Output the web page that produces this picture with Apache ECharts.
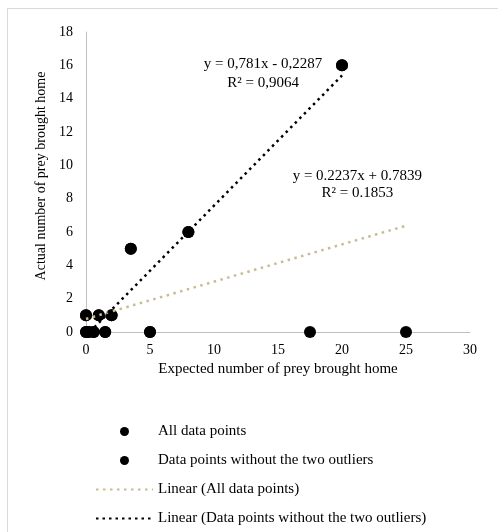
<!DOCTYPE html>
<html>
<head>
<meta charset="utf-8">
<script src="https://cdn.jsdelivr.net/npm/echarts@6/dist/echarts.min.js"></script>
<style>html,body{margin:0;padding:0;background:#fff;}#c{width:498px;height:532px;}</style>
</head>
<body>
<div id="c"></div>
<script>
var allPoints = [[0,0],[0.2,0],[0.6,0],[1.5,0],[5,0],[17.5,0],[25,0],[0,1],[1,1],[2,1],[3.5,5],[8,6],[20,16]];
var noOutlierPoints = [[0,0],[0.2,0],[0.6,0],[1.5,0],[5,0],[0,1],[1,1],[2,1],[3.5,5],[8,6],[20,16]];
var trendAll = [[0,0.7839],[25,6.3764]];
var trendNoOut = [[0.3,0.0056],[20,15.3913]];
var seriesNames = ['All data points','Data points without the two outliers','Linear (All data points)','Linear (Data points without the two outliers)'];
var eqAll = ['y = 0.2237x + 0.7839','R² = 0.1853'];
var eqNoOut = ['y = 0,781x - 0,2287','R² = 0,9064'];
var xTitle = 'Expected number of prey brought home';
var yTitle = 'Actual number of prey brought home';

var font = 'Liberation Serif';
var chart = echarts.init(document.getElementById('c'), null, {renderer:'canvas'});
chart.setOption({
  animation:false,
  backgroundColor:'#fff',
  textStyle:{fontFamily:font},
  grid:{left:86,right:28,top:32,bottom:200,containLabel:false},
  xAxis:{type:'value',min:0,max:30,interval:5,
    name:xTitle,nameLocation:'middle',nameGap:30,
    nameTextStyle:{fontFamily:font,fontSize:15,color:'#000'},
    axisLine:{show:true,onZero:false,lineStyle:{color:'#bfbfbf',width:1}},
    axisTick:{show:false},splitLine:{show:false},
    axisLabel:{fontFamily:font,fontSize:14,color:'#000',margin:11}},
  yAxis:{type:'value',min:0,max:18,interval:2,
    name:yTitle,nameLocation:'middle',nameGap:35,
    nameTextStyle:{fontFamily:font,fontSize:14,color:'#000',padding:[0,0,0,12]},
    axisLine:{show:true,onZero:false,lineStyle:{color:'#bfbfbf',width:1}},
    axisTick:{show:false},splitLine:{show:false},
    axisLabel:{fontFamily:font,fontSize:14,color:'#000',margin:13}},
  legend:{orient:'vertical',left:95,top:424,padding:0,itemGap:14,itemWidth:57,itemHeight:9,
    textStyle:{fontFamily:font,fontSize:15,color:'#000'},
    data:[
      {name:seriesNames[0]},
      {name:seriesNames[1]},
      {name:seriesNames[2],itemStyle:{opacity:0}},
      {name:seriesNames[3],itemStyle:{opacity:0}}
    ]},
  series:[
    {name:seriesNames[0],type:'scatter',data:allPoints,symbolSize:12,z:3,itemStyle:{color:'#000',opacity:1}},
    {name:seriesNames[1],type:'scatter',data:noOutlierPoints,symbolSize:12,z:4,itemStyle:{color:'#000',opacity:1}},
    {name:seriesNames[2],type:'line',data:trendAll,symbol:'none',z:5,
      lineStyle:{color:'#c9bb92',width:2.5,type:[2.5,4.5]},itemStyle:{color:'#c9bb92'}},
    {name:seriesNames[3],type:'line',data:trendNoOut,symbol:'none',z:6,
      lineStyle:{color:'#000',width:2.5,type:[2.5,4]},itemStyle:{color:'#000'}}
  ]
});
var p1 = chart.convertToPixel({gridIndex:0},[13.83,15.5]);
var p2 = chart.convertToPixel({gridIndex:0},[21.2,8.85]);
chart.setOption({graphic:[
  {type:'rect',shape:{x:7.5,y:8.5,width:600,height:600},style:{fill:'none',stroke:'#d9d9d9',lineWidth:1},silent:true},
  {type:'text',x:p1[0],y:p1[1],style:{text:eqNoOut.join('\n'),font:'15px '+font,fill:'#000',align:'center',verticalAlign:'middle',lineHeight:19},z:10},
  {type:'text',x:p2[0],y:p2[1],style:{text:eqAll.join('\n'),font:'15px '+font,fill:'#000',align:'center',verticalAlign:'middle',lineHeight:17},z:10}
]});
</script>
</body>
</html>
